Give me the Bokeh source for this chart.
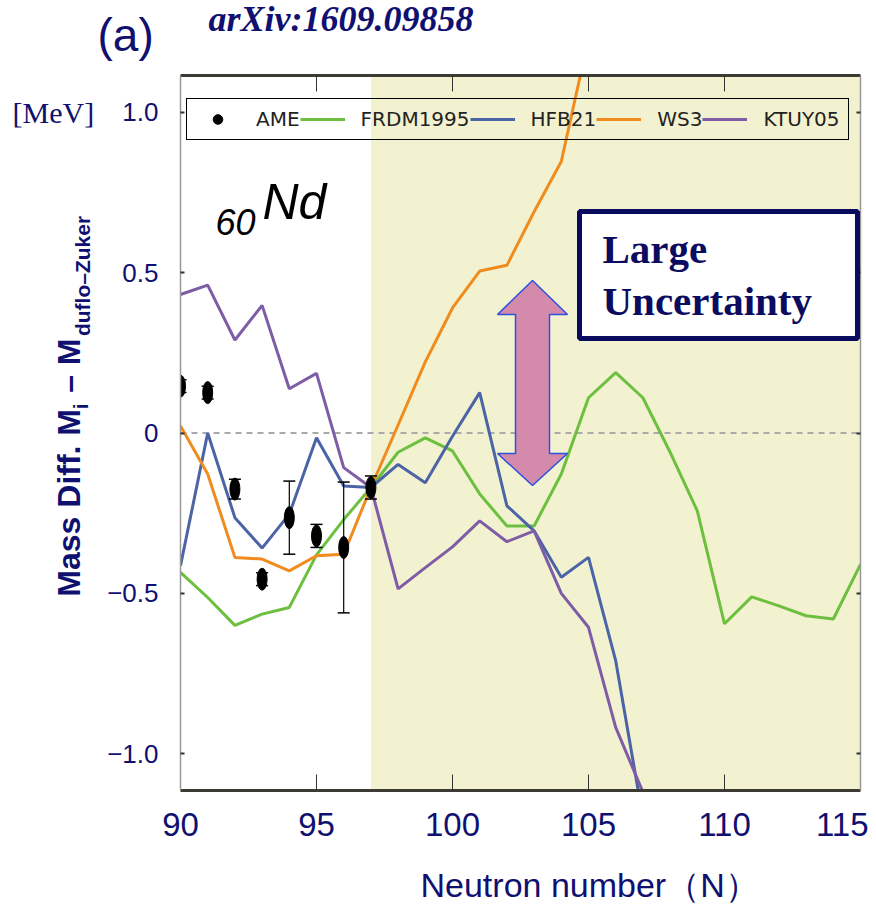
import math
from bokeh.plotting import figure
from bokeh.layouts import column, row
from bokeh.core.properties import value
from bokeh.models import (Range1d, FixedTicker, LinearAxis, BoxAnnotation, Span, Label,
                          PolyAnnotation, Legend, LegendItem)
from bokeh.embed import file_html
from bokeh.resources import INLINE

# ---------------- data ----------------
x_ticks = [90, 95, 100, 105, 110, 115]
y_ticks = [-1.0, -0.5, 0.0, 0.5, 1.0]
y_tick_labels = ["\u22121.0", "\u22120.5", "0", "0.5", "1.0"]

N_ame = [90, 91, 92, 93, 94, 95, 96, 97]
ame = [0.146, 0.126, -0.175, -0.456, -0.264, -0.321, -0.357, -0.170]
ame_err = [0.02, 0.02, 0.031, 0.02, 0.114, 0.036, 0.204, 0.036]

N_frdm = [90, 91, 92, 93, 94, 95, 96, 97, 98, 99, 100, 101, 102, 103, 104, 105,
          106, 107, 108, 109, 110, 111, 112, 113, 114, 115]
frdm = [-0.435, -0.513, -0.600, -0.565, -0.544, -0.380, -0.270, -0.170, -0.060, -0.015,
        -0.056, -0.190, -0.290, -0.290, -0.128, 0.110, 0.188, 0.110, -0.060, -0.243,
        -0.595, -0.511, -0.539, -0.570, -0.580, -0.410]

N_hfb = [90, 91, 92, 93, 94, 95, 96, 97, 98, 99, 100, 101, 102, 103, 104, 105, 106, 107]
hfb = [-0.414, 0.000, -0.264, -0.359, -0.253, -0.015, -0.165, -0.170, -0.098, -0.155,
       -0.010, 0.126, -0.227, -0.305, -0.450, -0.388, -0.710, -1.200]

N_ws3 = [90, 91, 92, 93, 94, 95, 96, 97, 98, 99, 100, 101, 102, 103, 104, 105]
ws3 = [0.022, -0.128, -0.388, -0.393, -0.430, -0.383, -0.378, -0.170, 0.025, 0.222,
       0.390, 0.505, 0.523, 0.690, 0.847, 1.230]

N_ktuy = [90, 91, 92, 93, 94, 95, 96, 97, 98, 99, 100, 101, 102, 103, 104, 105, 106, 107]
ktuy = [0.432, 0.461, 0.290, 0.398, 0.138, 0.186, -0.108, -0.170, -0.486, -0.420,
        -0.355, -0.274, -0.339, -0.305, -0.500, -0.606, -0.918, -1.120]

shade_start = 97

# ---------------- styling ----------------
NAVY = "#101070"
C_FRDM = "#6cbf3f"
C_HFB = "#4b64a6"
C_WS3 = "#f08c1e"
C_KTUY = "#7e5ca6"

X0, X1 = 90, 115
Y0, Y1 = -1.115, 1.115
L, R, T, B = 180, 860, 75, 790   # frame in page pixels

TOP_H = 68
LEFT_W = 98
MAIN_W = 770
MAIN_H = 782
BOT_H = 56
FULL_W = LEFT_W + MAIN_W
BASE_FIX = 0.37   # baseline correction (fraction of font size)


def dx(px):
    return X0 + (px - L) / (R - L) * (X1 - X0)


def dy(py):
    return Y1 - (py - T) / (B - T) * (Y1 - Y0)


def fix(pos, fs):
    return pos - BASE_FIX * fs


def blank(w, h):
    f = figure(width=w, height=h, x_range=Range1d(0, w), y_range=Range1d(0, h),
               x_axis_type=None, y_axis_type=None, output_backend="svg",
               toolbar_location=None, min_border=0, background_fill_color="white",
               border_fill_color="white")
    f.outline_line_color = None
    return f


def put(f, x, y, txt, font, size, style="normal", color=NAVY, angle=0.0):
    f.text(x=[x], y=[y], text=[txt], text_font=value(font), text_font_size=value(f"{size}px"),
           text_font_style=style, text_color=color, angle=angle,
           text_align="left", text_baseline="alphabetic")


def label(px, py, txt, font, size, style="normal", color=NAVY):
    return Label(x=dx(px), y=dy(fix(py, size)), text=txt, text_font=font,
                 text_font_style=style, text_font_size=f"{size}px", text_color=color,
                 text_align="left", text_baseline="alphabetic")


# ---------------- main plot ----------------
p = figure(width=MAIN_W, height=MAIN_H, x_range=Range1d(X0, X1), y_range=Range1d(Y0, Y1),
           output_backend="svg", toolbar_location=None,
           min_border_left=82, min_border_right=8, min_border_top=7, min_border_bottom=60,
           background_fill_color="white", border_fill_color="white")
p.outline_line_color = None
p.grid.visible = False

xa = p.xaxis[0]
xa.ticker = FixedTicker(ticks=x_ticks)
xa.major_label_text_font = "Liberation Sans"
xa.major_label_text_font_size = "33px"
xa.major_label_text_color = NAVY
xa.major_tick_in = 16
xa.major_tick_out = 0
xa.minor_tick_in = 0
xa.minor_tick_out = 0
xa.major_tick_line_color = "#333333"
xa.axis_line_width = 3
xa.axis_line_color = "#3b3b33"
xa.major_label_standoff = 22

ya = p.yaxis[0]
ya.ticker = FixedTicker(ticks=y_ticks)
ya.major_label_overrides = {t: s for t, s in zip(y_ticks, y_tick_labels)}
ya.major_label_text_font = "Liberation Sans"
ya.major_label_text_font_size = "26px"
ya.major_label_text_color = NAVY
ya.major_tick_in = 4
ya.major_tick_out = 0
ya.major_tick_line_width = 2
ya.major_tick_line_color = "#333333"
ya.minor_tick_in = 0
ya.minor_tick_out = 0
ya.axis_line_color = "#999999"
ya.axis_line_width = 1.5
ya.major_label_standoff = 22

ta = LinearAxis(ticker=FixedTicker(ticks=x_ticks))
ta.major_label_overrides = {t: "" for t in x_ticks}
ta.major_label_text_font_size = "1px"
ta.major_label_standoff = 0
ta.major_tick_in = 16
ta.major_tick_out = 0
ta.minor_tick_in = 0
ta.minor_tick_out = 0
ta.major_tick_line_color = "#333333"
ta.axis_line_width = 3
ta.axis_line_color = "#3b3b33"
p.add_layout(ta, "above")

ra = LinearAxis(ticker=FixedTicker(ticks=y_ticks))
ra.major_label_overrides = {t: "" for t in y_ticks}
ra.major_label_text_font_size = "1px"
ra.major_label_standoff = 0
ra.major_tick_in = 4
ra.major_tick_out = 0
ra.major_tick_line_width = 2
ra.major_tick_line_color = "#333333"
ra.minor_tick_in = 0
ra.minor_tick_out = 0
ra.axis_line_color = "#999999"
ra.axis_line_width = 1.5
p.add_layout(ra, "right")

p.add_layout(BoxAnnotation(left=shade_start, fill_color="#f3f2d0", fill_alpha=1.0,
                           line_color=None, level="underlay"))
p.add_layout(Span(location=0, dimension="width", line_color="#aaaaaa",
                  line_dash="6 5", line_width=2, level="underlay"))

r_frdm = p.line(N_frdm, frdm, line_color=C_FRDM, line_width=3)
r_hfb = p.line(N_hfb, hfb, line_color=C_HFB, line_width=3)
r_ws3 = p.line(N_ws3, ws3, line_color=C_WS3, line_width=3)
r_ktuy = p.line(N_ktuy, ktuy, line_color=C_KTUY, line_width=3)

lo = [v - e for v, e in zip(ame, ame_err)]
hi = [v + e for v, e in zip(ame, ame_err)]
p.segment(x0=N_ame, y0=lo, x1=N_ame, y1=hi, line_color="black", line_width=1.2)
p.scatter(N_ame, hi, marker="dash", size=12, line_color="black", line_width=1.5)
p.scatter(N_ame, lo, marker="dash", size=12, line_color="black", line_width=1.5)
r_ame = p.scatter(N_ame, ame, marker="circle", size=8, fill_color="black", line_color="black")
p.ellipse(N_ame, ame, width=10, height=22, width_units="screen", height_units="screen",
          fill_color="black", line_color="black")

legend = Legend(items=[
    LegendItem(label="AME", renderers=[r_ame]),
    LegendItem(label="FRDM1995", renderers=[r_frdm]),
    LegendItem(label="HFB21", renderers=[r_hfb]),
    LegendItem(label="WS3", renderers=[r_ws3]),
    LegendItem(label="KTUY05", renderers=[r_ktuy]),
], orientation="horizontal", location=(6, 650))
legend.label_text_font = "DejaVu Sans"
legend.label_text_font_size = "20px"
legend.label_text_color = "#222222"
legend.glyph_width = 45
legend.glyph_height = 24
legend.label_height = 24
legend.label_standoff = 16
legend.spacing = 0
legend.padding = 8
legend.margin = 0
legend.border_line_color = "black"
legend.border_line_width = 1.5
legend.border_line_alpha = 1.0
legend.background_fill_alpha = 0
p.add_layout(legend, "center")

# double arrow
xc = dx(532)
sw = dx(549) - dx(532)
hw = dx(567) - dx(532)
yt, yhb_t, yhb_b, yb = dy(280), dy(314), dy(453), dy(485)
p.add_layout(PolyAnnotation(
    xs=[xc, xc + hw, xc + sw, xc + sw, xc + hw, xc, xc - hw, xc - sw, xc - sw, xc - hw],
    ys=[yt, yhb_t, yhb_t, yhb_b, yhb_b, yb, yhb_b, yhb_b, yhb_t, yhb_t],
    fill_color="#d48aab", fill_alpha=1.0, line_color="#2c50e0", line_alpha=1.0,
    line_width=1.5))

# "Large Uncertainty" box
p.add_layout(BoxAnnotation(left=dx(579), right=dx(857), top=dy(211), bottom=dy(338),
                           fill_color="white", fill_alpha=1.0, line_color="#0a0a5e",
                           line_alpha=1.0, line_width=5))
p.add_layout(label(602, 264, "Large", "Liberation Serif", 41, "bold", "#0b0b60"))
p.add_layout(label(602, 316, "Uncertainty", "Liberation Serif", 41, "bold", "#0b0b60"))

# 60Nd
p.add_layout(label(215, 235, "60", "Liberation Sans", 36, "italic", "black"))
p.add_layout(label(262, 220, "Nd", "Liberation Sans", 50, "italic", "black"))

# ---------------- surrounding text panels ----------------
top = blank(FULL_W, TOP_H)
put(top, 97, TOP_H - fix(52, 46), "(a)", "Liberation Sans", 46)
put(top, 208, TOP_H - fix(32, 36), "arXiv:1609.09858", "Liberation Serif", 36,
    style="bold italic")

left = blank(LEFT_W, MAIN_H)
LB = TOP_H + MAIN_H   # page y of the left panel's bottom
put(left, 12, LB - fix(120, 30), "[MeV]", "Liberation Serif", 30)
YF = "Liberation Sans"
for txt, bx, py, fs in [("Mass Diff.", 80, 638, 32), ("M", 80, 462, 32),
                        ("i", 88, 433, 20), ("\u2013", 80, 415, 32),
                        ("M", 80, 385, 32), ("duflo\u2013Zuker", 90, 353, 21)]:
    put(left, fix(bx, fs), LB - py, txt, YF, fs, style="bold", angle=math.pi / 2)

bottom = blank(FULL_W, BOT_H)
BB = TOP_H + MAIN_H + BOT_H
put(bottom, 420, BB - fix(897, 34), "Neutron number\uff08N\uff09", "Liberation Sans", 34)

layout = column(top, row(left, p), bottom)
open("out.html", "w").write(file_html(layout, INLINE))
